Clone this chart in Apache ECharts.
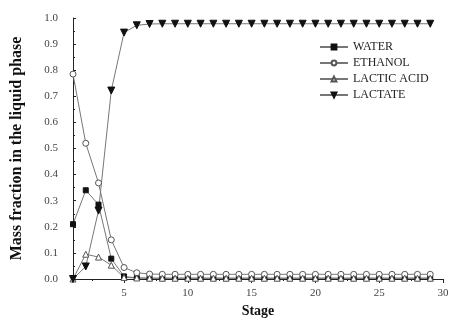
<!DOCTYPE html>
<html><head><meta charset="utf-8">
<script src="https://cdn.jsdelivr.net/npm/echarts@6/dist/echarts.min.js"></script>
<style>html,body{margin:0;padding:0;background:#fff}#c{width:452px;height:320px}</style>
</head><body><div id="c"></div>
<script>
const stages = [1,2,3,4,5,6,7,8,9,10,11,12,13,14,15,16,17,18,19,20,21,22,23,24,25,26,27,28,29];
const water = [0.21,0.34,0.285,0.078,0.01,0.004,0.003,0.003,0.003,0.003,0.003,0.003,0.003,0.003,0.003,0.003,0.003,0.003,0.003,0.003,0.003,0.003,0.003,0.003,0.003,0.003,0.003,0.003,0.003];
const ethanol = [0.785,0.52,0.368,0.15,0.044,0.024,0.019,0.018,0.018,0.018,0.018,0.018,0.018,0.018,0.018,0.018,0.018,0.018,0.018,0.018,0.018,0.018,0.018,0.018,0.018,0.018,0.018,0.018,0.018];
const lacticAcid = [0.0,0.095,0.084,0.053,0.006,0.004,0.003,0.003,0.003,0.003,0.003,0.003,0.003,0.003,0.003,0.003,0.003,0.003,0.003,0.003,0.003,0.003,0.003,0.003,0.003,0.003,0.003,0.003,0.003];
const lactate = [0.0,0.048,0.262,0.722,0.944,0.972,0.977,0.978,0.978,0.978,0.978,0.978,0.978,0.978,0.978,0.978,0.978,0.978,0.978,0.978,0.978,0.978,0.978,0.978,0.978,0.978,0.978,0.978,0.978];
const xTicks = [5,10,15,20,25,30];
const xMinorTicks = [2.5,7.5,12.5,17.5,22.5,27.5];
const names = ['WATER','ETHANOL','LACTIC ACID','LACTATE'];

const serif = '"Liberation Serif","DejaVu Serif",serif';
const pair = arr => stages.map((s,i)=>[s,arr[i]]);
const lineStyle = {color:'#777', width:1};
const chart = echarts.init(document.getElementById('c'));
chart.setOption({
  animation:false,
  backgroundColor:'#fff',
  grid:{left:73,right:9,top:18,bottom:41,containLabel:false,outerBoundsMode:'none'},
  legend:{
    orient:'vertical', left:314, top:36, itemWidth:28, itemHeight:6, itemGap:4,
    textStyle:{fontFamily:serif,fontSize:12,color:'#222'},
    data:names
  },
  xAxis:[{
    type:'value', min:1, max:30,
    name:'Stage', nameLocation:'middle', nameGap:20,
    nameTextStyle:{fontFamily:serif,fontSize:14,fontWeight:'bold',color:'#111'},
    axisLine:{lineStyle:{color:'#222',width:1}},
    axisTick:{show:true,length:4,customValues:xTicks,lineStyle:{color:'#222'}},
    axisLabel:{customValues:xTicks,fontFamily:serif,fontSize:11,color:'#444',margin:9},
    splitLine:{show:false}
  },{
    type:'value', min:1, max:30, position:'bottom',
    axisLine:{show:false},
    axisTick:{show:true,length:2,customValues:xMinorTicks,lineStyle:{color:'#222'}},
    axisLabel:{show:false,customValues:xMinorTicks},
    splitLine:{show:false}
  }],
  yAxis:{
    type:'value', min:0, max:1, interval:0.1,
    name:'Mass fraction in the liquid phase', nameLocation:'middle', nameGap:48,
    nameTextStyle:{fontFamily:serif,fontSize:16,fontWeight:'bold',color:'#111'},
    axisLine:{show:true,lineStyle:{color:'#222',width:1}},
    axisTick:{show:true,inside:true,length:3,lineStyle:{color:'#222'}},
    minorTick:{show:true,splitNumber:2,length:2,lineStyle:{color:'#222'}},
    axisLabel:{formatter:v=>v.toFixed(1),fontFamily:serif,fontSize:11,color:'#444',margin:15},
    splitLine:{show:false}
  },
  series:[
    {name:names[0],type:'line',data:pair(water),symbol:'rect',symbolSize:5,showAllSymbol:true,
     lineStyle:lineStyle,itemStyle:{color:'#111',borderColor:'#111',borderWidth:1}},
    {name:names[1],type:'line',data:pair(ethanol),symbol:'circle',symbolSize:6,showAllSymbol:true,
     lineStyle:lineStyle,itemStyle:{color:'#fff',borderColor:'#555',borderWidth:1}},
    {name:names[2],type:'line',data:pair(lacticAcid),symbol:'triangle',symbolSize:6,showAllSymbol:true,
     lineStyle:lineStyle,itemStyle:{color:'#fff',borderColor:'#555',borderWidth:1}},
    {name:names[3],type:'line',data:pair(lactate),symbol:'triangle',symbolRotate:180,symbolSize:7,showAllSymbol:true,
     lineStyle:lineStyle,itemStyle:{color:'#111',borderColor:'#111',borderWidth:1}}
  ]
});
</script></body></html>
